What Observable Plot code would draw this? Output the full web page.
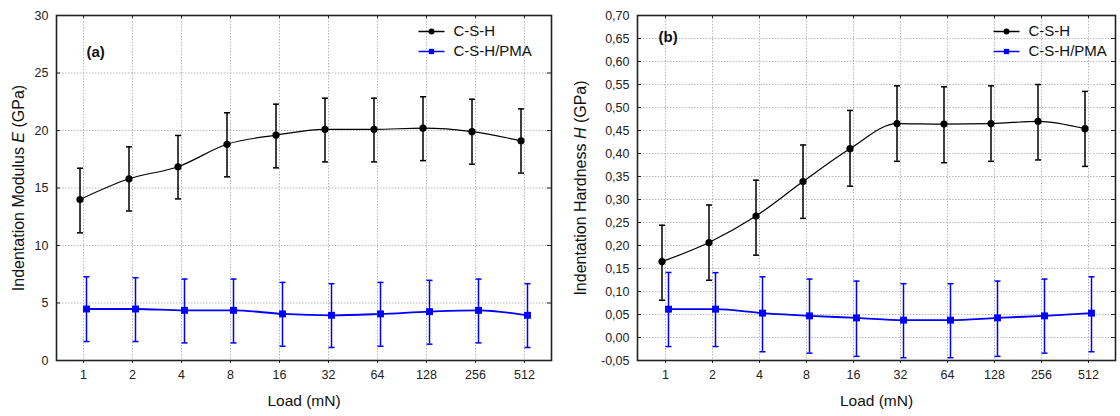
<!DOCTYPE html>
<html>
<head>
<meta charset="utf-8">
<script src="https://cdn.jsdelivr.net/npm/d3@7"></script>
<script src="https://cdn.jsdelivr.net/npm/@observablehq/plot@0.6"></script>
<style>
  html, body { margin: 0; padding: 0; background: #fff; }
  #wrap { display: flex; flex-direction: row; width: 1120px; height: 416px; }
</style>
</head>
<body>
<div id="wrap"></div>
<script>
// ---------- data ----------
const loads = ["1", "2", "4", "8", "16", "32", "64", "128", "256", "512"];
const seriesNames = ["C-S-H", "C-S-H/PMA"];

// (a) Indentation modulus E (GPa)
const E_csh    = [14.0, 15.8, 16.85, 18.8, 19.6, 20.1, 20.1, 20.2, 19.9, 19.1];
const E_csh_lo = [11.1, 13.0, 14.05, 15.97, 16.75, 17.27, 17.27, 17.38, 17.07, 16.3];
const E_csh_hi = [16.72, 18.58, 19.57, 21.54, 22.29, 22.81, 22.81, 22.93, 22.72, 21.88];
const E_pma    = [4.48, 4.48, 4.36, 4.36, 4.05, 3.93, 4.05, 4.25, 4.36, 3.93];
const E_pma_lo = [1.65, 1.65, 1.53, 1.53, 1.24, 1.13, 1.24, 1.42, 1.53, 1.13];
const E_pma_hi = [7.28, 7.2, 7.08, 7.08, 6.79, 6.68, 6.79, 6.97, 7.08, 6.68];

// (b) Indentation hardness H (GPa)
const H_csh    = [0.165, 0.2065, 0.264, 0.339, 0.4105, 0.465, 0.464, 0.465, 0.470, 0.454];
const H_csh_lo = [0.081, 0.1245, 0.179, 0.259, 0.329, 0.383, 0.380, 0.383, 0.386, 0.372];
const H_csh_hi = [0.244, 0.288, 0.342, 0.4185, 0.4936, 0.547, 0.545, 0.547, 0.550, 0.535];
const H_pma    = [0.0616, 0.0616, 0.053, 0.047, 0.0427, 0.0377, 0.0377, 0.0427, 0.047, 0.053];
const H_pma_lo = [-0.0197, -0.0197, -0.031, -0.034, -0.041, -0.044, -0.044, -0.041, -0.034, -0.031];
const H_pma_hi = [0.1414, 0.141, 0.132, 0.127, 0.1226, 0.117, 0.117, 0.1226, 0.127, 0.132];

const yTicksE = [0, 5, 10, 15, 20, 25, 30];
const yTicksH = [-0.05, 0, 0.05, 0.10, 0.15, 0.20, 0.25, 0.30, 0.35, 0.40, 0.45, 0.50, 0.55, 0.60, 0.65, 0.70];

const xLabel = "Load (mN)";
const yLabelE = ["Indentation Modulus ", "E", " (GPa)"];
const yLabelH = ["Indentation Hardness ", "H", " (GPa)"];

// ---------- helpers ----------
const rows = (m, lo, hi) => loads.map((l, i) => ({load: l, m: m[i], lo: lo[i], hi: hi[i]}));
const FONT = "'Liberation Sans', Arial, Helvetica, sans-serif";
const colors = {"C-S-H": "#000000", "C-S-H/PMA": "#0000ff"};
const lineSym = {draw(ctx) { ctx.moveTo(-13, 0); ctx.lineTo(13, 0); }};
const capSym = {draw(ctx) { ctx.moveTo(-3, 0); ctx.lineTo(3, 0); }};

function panel(o) {
  const W = 560, H = 416, mT = 15, mB = 56;
  const plotW = W - o.mL - o.mR, plotH = H - mT - mB;
  const black = rows(...o.csh), blue = rows(...o.pma);
  const series = [
    {data: black, color: colors["C-S-H"], dx: -3.5, symbol: "circle", r: 3.6, lw: 1.2},
    {data: blue, color: colors["C-S-H/PMA"], dx: 3, symbol: "square", r: 3.9, lw: 1.8}
  ];
  const marks = [
    Plot.gridX(loads, {stroke: "#b8b8b8", strokeOpacity: 1, strokeDasharray: "1.5,1.5"}),
    Plot.gridY(o.yTicks, {stroke: "#b8b8b8", strokeOpacity: 1, strokeDasharray: "1.5,1.5"}),
    Plot.axisX(loads, {tickSize: 3, tickPadding: 7, label: null, fontSize: 12.5, stroke: "#222"}),
    Plot.axisY(o.yTicks, {tickSize: 0, tickPadding: 8, label: null, fontSize: 12.5, tickFormat: o.fmt}),
    // small inward ticks (left/right/top)
    Plot.tickY(o.yTicks, {y: d => d, insetRight: plotW - 4, stroke: "#222"}),
    Plot.tickY(o.yTicks, {y: d => d, insetLeft: plotW - 4, stroke: "#222"}),
    Plot.tickX(loads, {x: d => d, insetBottom: plotH - 3, stroke: "#222"})
  ];
  for (const s of series) {
    marks.push(
      Plot.ruleX(s.data, {x: "load", y1: "lo", y2: "hi", dx: s.dx, stroke: s.color, strokeWidth: 1.5}),
      Plot.dot(s.data, {x: "load", y: "lo", dx: s.dx, symbol: capSym, fill: "none", stroke: s.color, strokeWidth: 1.5}),
      Plot.dot(s.data, {x: "load", y: "hi", dx: s.dx, symbol: capSym, fill: "none", stroke: s.color, strokeWidth: 1.5}),
      Plot.line(s.data, {x: "load", y: "m", dx: s.dx, stroke: s.color, strokeWidth: s.lw, curve: "monotone-x"}),
      Plot.dot(s.data, {x: "load", y: "m", dx: s.dx, symbol: s.symbol, r: s.r, fill: s.color, stroke: "none"})
    );
  }
  // legend
  seriesNames.forEach((name, k) => {
    const s = series[k];
    const dy = 16 + 20 * k;
    marks.push(
      Plot.dot([name], {frameAnchor: "top-left", dx: o.legX, dy, symbol: lineSym, stroke: s.color, fill: "none", strokeWidth: 1.5}),
      Plot.dot([name], {frameAnchor: "top-left", dx: o.legX, dy, symbol: s.symbol, r: 3, fill: s.color, stroke: "none"}),
      Plot.text([name], {frameAnchor: "top-left", dx: o.legX + 22, dy, textAnchor: "start", lineAnchor: "middle", fontSize: 15, fill: "#111"})
    );
  });
  marks.push(
    Plot.text([o.tag], {frameAnchor: "top-left", dx: o.tagX, dy: o.tagY, textAnchor: "start", lineAnchor: "middle", fontSize: 15, fontWeight: "bold", fill: "#111"}),
    Plot.text([xLabel], {frameAnchor: "bottom", dy: 41, textAnchor: "middle", lineAnchor: "middle", fontSize: 15.5, fill: "#111"}),
    Plot.text([o.yLabel.join("")], {frameAnchor: "left", dx: o.yLabX, rotate: -90, textAnchor: "middle", lineAnchor: "middle", fontSize: 16, fill: "#111"}),
    Plot.frame({stroke: "#222", strokeWidth: 1.6})
  );
  const svg = Plot.plot({
    width: W, height: H,
    marginLeft: o.mL, marginRight: o.mR, marginTop: mT, marginBottom: mB,
    style: {fontFamily: FONT, fontSize: "13px", color: "#222", background: "#fff", overflow: "visible"},
    x: {type: "point", domain: loads, padding: 0.5},
    y: {domain: o.yDomain},
    marks
  });
  // italic symbol inside y label
  const full = o.yLabel.join("");
  d3.select(svg).selectAll("text").filter(function() { return this.textContent === full; })
    .each(function() {
      const t = d3.select(this);
      t.text(null);
      t.append("tspan").text(o.yLabel[0]);
      t.append("tspan").attr("font-style", "italic").text(o.yLabel[1]);
      t.append("tspan").text(o.yLabel[2]);
    });
  return svg;
}

const wrap = document.getElementById("wrap");
wrap.append(panel({
  mL: 56, mR: 9,
  csh: [E_csh, E_csh_lo, E_csh_hi], pma: [E_pma, E_pma_lo, E_pma_hi],
  yTicks: yTicksE, yDomain: [0, 30], fmt: d => String(d),
  legX: 375, tag: "(a)", tagX: 30, tagY: 37, yLabel: yLabelE, yLabX: -38
}));
wrap.append(panel({
  mL: 77, mR: 5,
  csh: [H_csh, H_csh_lo, H_csh_hi], pma: [H_pma, H_pma_lo, H_pma_hi],
  yTicks: yTicksH, yDomain: [-0.05, 0.70], fmt: d => d.toFixed(2).replace(".", ","),
  legX: 369, tag: "(b)", tagX: 21, tagY: 22, yLabel: yLabelH, yLabX: -57
}));
</script>
</body>
</html>
